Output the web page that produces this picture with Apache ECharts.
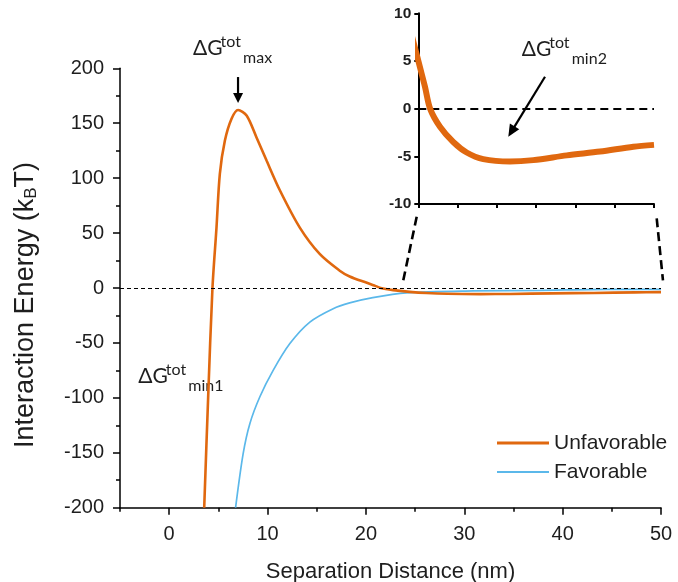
<!DOCTYPE html>
<html><head><meta charset="utf-8">
<script src="https://cdn.jsdelivr.net/npm/echarts@6/dist/echarts.min.js"></script>
<style>html,body{margin:0;padding:0;background:#fff}#c{width:678px;height:582px}</style>
</head><body><div id="c"></div>
<script>
// ---- data ----
const unfavX = [3.56, 3.96, 4.4, 4.81, 5.15, 5.66, 6.34, 7.0, 7.87, 8.88, 9.9, 11.25, 13.28, 15.3, 17.3, 18.35, 20.1, 20.85, 21.5, 22.76, 24.45, 26.16, 28.27, 31.67, 34.64, 38.9, 43.13, 47.37, 50];
const unfavY = [-200, -100, 0, 55, 104, 134, 154, 162, 157, 137, 116, 89, 55, 31, 16, 10.5, 4.7, 2.3, 0, -1.9, -3.5, -4.6, -5.3, -5.55, -5.4, -4.9, -4.5, -4.0, -3.8];
const favX = [6.75, 7.52, 8.2, 9.22, 10.57, 12.27, 14.3, 16.67, 18.35, 20.7, 24.1, 30.9, 37.7, 44.5, 50];
const favY = [-200, -150.8, -123.5, -99, -75, -50.6, -31, -18.8, -13.6, -8.8, -4.5, -2.7, -2.1, -1.2, -1.2];
const seriesNames = ['Unfavorable', 'Favorable'];
const xTicks = [0, 10, 20, 30, 40, 50];
const xMinorTicks = [-5, 5, 15, 25, 35, 45];
const insetXTicks = [20, 25, 30, 35, 40, 45, 50];

const ORANGE = '#E0680F';
const BLUE = '#5BB8EA';
const TXT = '#1e1e1e';
const AX = '#000';
const SANS = '"Liberation Sans", Arial, sans-serif';
const ANN = 'Lato, "Open Sans", sans-serif';

const zip = (xs, ys) => xs.map((x, i) => [x, ys[i]]);

const chart = echarts.init(document.getElementById('c'), null, {renderer: 'canvas'});

const option = {
  animation: false,
  backgroundColor: '#fff',
  grid: [
    {left: 120, top: 68.3, width: 541, height: 439.4, containLabel: false, outerBoundsMode: 'none'},
    {left: 418.3, top: 13.3, width: 235.7, height: 190.7, containLabel: false, outerBoundsMode: 'none'}
  ],
  legend: {
    data: [
      {name: seriesNames[0], icon: 'path://M0,0H52V3H0Z'},
      {name: seriesNames[1], icon: 'path://M0,0H52V2H0Z'}
    ],
    orient: 'vertical', left: 497, top: 432, padding: 0,
    itemWidth: 52, itemHeight: 14, itemGap: 7,
    textStyle: {fontSize: 21, color: TXT, fontFamily: SANS, lineHeight: 22},
    selectedMode: false
  },
  xAxis: [
    {gridIndex: 0, type: 'value', min: -5, max: 50, position: 'bottom',
     axisLine: {show: true, onZero: false, lineStyle: {color: AX, width: 1.5}},
     axisTick: {show: true, customValues: xTicks, length: 7, lineStyle: {color: AX, width: 1.5}},
     axisLabel: {customValues: xTicks, fontSize: 20, color: TXT, fontFamily: SANS, margin: 17},
     splitLine: {show: false},
     name: 'Separation Distance (nm)', nameLocation: 'middle', nameGap: 53,
     nameTextStyle: {fontSize: 22, color: TXT, fontFamily: SANS}},
    {gridIndex: 0, type: 'value', min: -5, max: 50, position: 'bottom',
     axisLine: {show: false, onZero: false},
     axisTick: {show: true, customValues: xMinorTicks, length: 4, lineStyle: {color: AX, width: 1.5}},
     axisLabel: {show: false}, splitLine: {show: false}},
    {gridIndex: 1, type: 'value', min: 20, max: 50, position: 'bottom',
     axisLine: {show: true, onZero: false, lineStyle: {color: AX, width: 2}},
     axisTick: {show: true, customValues: insetXTicks, length: 4, lineStyle: {color: AX, width: 2}},
     axisLabel: {show: false}, splitLine: {show: false}}
  ],
  yAxis: [
    {gridIndex: 0, type: 'value', min: -200, max: 200, interval: 50, position: 'left',
     axisLine: {show: true, onZero: false, lineStyle: {color: AX, width: 1.5}},
     axisTick: {show: true, length: 7, lineStyle: {color: AX, width: 1.5}},
     minorTick: {show: true, splitNumber: 2, length: 4, lineStyle: {color: AX, width: 1.5}},
     axisLabel: {fontSize: 20, color: TXT, fontFamily: SANS, margin: 16},
     splitLine: {show: false},
     name: 'Interaction Energy (k{s|B}T)', nameLocation: 'middle', nameGap: 80, nameRotate: 90,
     nameTextStyle: {fontSize: 27, color: TXT, fontFamily: SANS, padding: [0, 34, 0, 0],
       rich: {s: {fontSize: 17, color: TXT, fontFamily: SANS, padding: [11, 0, 0, 0]}}}},
    {gridIndex: 1, type: 'value', min: -10, max: 10, interval: 5, position: 'left',
     axisLine: {show: true, onZero: false, lineStyle: {color: AX, width: 2}},
     axisTick: {show: true, length: 4, lineStyle: {color: AX, width: 2}},
     axisLabel: {fontSize: 15.5, fontWeight: 'bold', color: TXT, fontFamily: SANS, margin: 7},
     splitLine: {show: false}}
  ],
  series: [
    {name: '_zero', type: 'line', xAxisIndex: 0, yAxisIndex: 0, data: [], silent: true,
     markLine: {silent: true, symbol: 'none', label: {show: false},
       lineStyle: {color: '#000', type: [4, 3], width: 1}, data: [{yAxis: 0}]}},
    {name: seriesNames[0], type: 'line', xAxisIndex: 0, yAxisIndex: 0,
     data: zip(unfavX, unfavY), symbol: 'none', smooth: 0.3, clip: true,
     lineStyle: {color: ORANGE, width: 2.6}, itemStyle: {color: ORANGE}, z: 3},
    {name: seriesNames[1], type: 'line', xAxisIndex: 0, yAxisIndex: 0,
     data: zip(favX, favY), symbol: 'none', smooth: 0.3, clip: true,
     lineStyle: {color: BLUE, width: 1.7}, itemStyle: {color: BLUE}, z: 2},
    {name: 'Unfavorable (inset)', type: 'line', xAxisIndex: 2, yAxisIndex: 1,
     data: zip(unfavX, unfavY), symbol: 'none', smooth: 0.3, clip: true,
     lineStyle: {color: ORANGE, width: 6}, itemStyle: {color: ORANGE}, z: 3,
     markLine: {silent: true, symbol: 'none', label: {show: false}, z: 1,
       lineStyle: {color: '#000', type: [8, 5], width: 2}, data: [{yAxis: 0}]}}
  ]
};
chart.setOption(option);

// ---- annotations positioned from data / grid coordinates ----
const P = (si, x, y) => chart.convertToPixel({seriesIndex: si}, [x, y]);
const g = [];
function txt(x, y, text, size) {
  g.push({type: 'text', x: x, y: y - 0.34 * size, silent: true,
    style: {text: text, fontSize: size, fontFamily: ANN, fill: TXT,
      align: 'left', verticalAlign: 'middle', textAlign: 'left', textVerticalAlign: 'middle'}});
}
function label(x, baseline, sub) {
  txt(x, baseline, 'ΔG', 21);
  txt(x + 27.5, baseline - 8.5, 'tot', 16);
  txt(x + 50, baseline + 7.5, sub, 16);
}
function arrow(x1, y1, x2, y2, head, half, w) {
  const dx = x2 - x1, dy = y2 - y1, L = Math.hypot(dx, dy);
  const ux = dx / L, uy = dy / L;
  const bx = x2 - ux * head, by = y2 - uy * head;
  g.push({type: 'line', silent: true, shape: {x1: x1, y1: y1, x2: bx + ux, y2: by + uy},
    style: {stroke: '#000', lineWidth: w}});
  g.push({type: 'polygon', silent: true,
    shape: {points: [[x2, y2], [bx - uy * half, by + ux * half], [bx + uy * half, by - ux * half]]},
    style: {fill: '#000'}});
}
function dashed(a, b) {
  g.push({type: 'line', silent: true, shape: {x1: a[0], y1: a[1], x2: b[0], y2: b[1]},
    style: {stroke: '#000', lineWidth: 2.6, lineDash: [9, 5]}});
}

let imax = 0;
unfavY.forEach((v, i) => { if (v > unfavY[imax]) imax = i; });
const pk = P(1, unfavX[imax], unfavY[imax]);
arrow(pk[0], pk[1] - 33, pk[0], pk[1] - 7, 10, 5, 2.2);
label(pk[0] - 45, pk[1] - 54.3, 'max');

const c0 = P(1, -5, -200);
label(c0[0] + 18.3, c0[1] - 124.4, 'min1');

const ic = P(3, 20, 10);
label(ic[0] + 103.4, ic[1] + 43.4, 'min2');
arrow(ic[0] + 126.7, ic[1] + 63.4, ic[0] + 90, ic[1] + 123.4, 12, 5.5, 2.2);

const ibl = P(3, 20, -10), ibr = P(3, 50, -10);
dashed([ibl[0] - 1.6, ibl[1] + 12.7], P(1, 23.8, 7));
dashed([ibr[0] + 2.7, ibr[1] + 14.3], P(1, 50.2, 7));

chart.setOption({graphic: {elements: g}});
</script>
</body></html>
